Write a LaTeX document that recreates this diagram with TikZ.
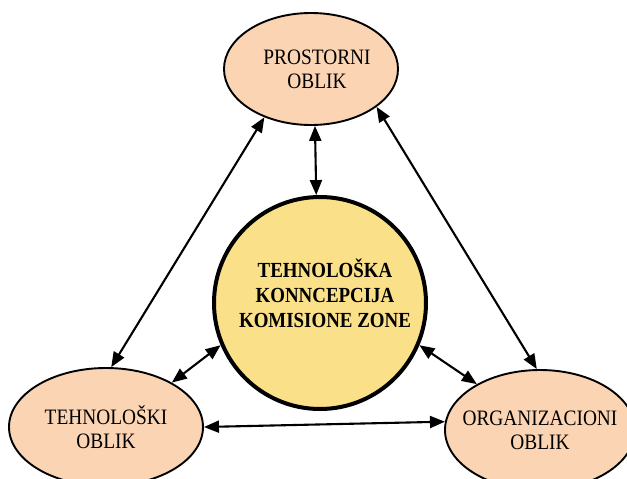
\documentclass[tikz,border=0pt]{standalone}
\usepackage{fontspec}
\setmainfont{Liberation Serif}[FakeStretch=0.88]
\usetikzlibrary{shapes.geometric,arrows.meta}
\definecolor{peach}{HTML}{FBD4B4}
\definecolor{gold}{HTML}{FAE088}
\begin{document}
\begin{tikzpicture}[x=1pt,y=-1pt,
  form/.style={ellipse, draw=black, line width=1.9pt, fill=peach, inner sep=0pt},
  formtext/.style={align=center, font=\fontsize{22}{24}\selectfont},
  core/.style={circle, draw=black, line width=4pt, fill=gold, inner sep=0pt, minimum size=212pt},
  coretext/.style={align=center, font=\fontsize{21.5}{25}\selectfont\bfseries},
  link/.style={line width=2.1pt, {Triangle[length=15pt,width=12pt]}-{Triangle[length=15pt,width=12pt]}}]
  \useasboundingbox (0,0) rectangle (627,479);
  % the three forms around the central concept
  \node[form, minimum width=174pt, minimum height=112pt,
    label={[formtext, xshift=6pt]center:PROSTORNI\\OBLIK}] (space) at (311,69) {};
  \node[form, minimum width=194pt, minimum height=118pt,
    label={[formtext]center:TEHNOLOŠKI\\OBLIK}] (tech) at (106,427) {};
  \node[form, minimum width=190pt, minimum height=120pt,
    label={[formtext]center:ORGANIZACIONI\\OBLIK}] (org) at (540,430) {};
  \node[core, label={[coretext, xshift=5pt, yshift=10pt]center:TEHNOLOŠKA\\KONNCEPCIJA\\KOMISIONE ZONE}] (concept) at (320,303) {};
  % mutual relations
  \draw[link] (space.-86) -- (concept.92);
  \draw[link] (space.226) -- (tech.85);
  \draw[link] (space.-30) -- (org.93);
  \draw[link] (concept.203) -- (tech.34);
  \draw[link] (concept.337) -- (org.144);
  \draw[link] (tech.0) -- (org.175);
\end{tikzpicture}
\end{document}
